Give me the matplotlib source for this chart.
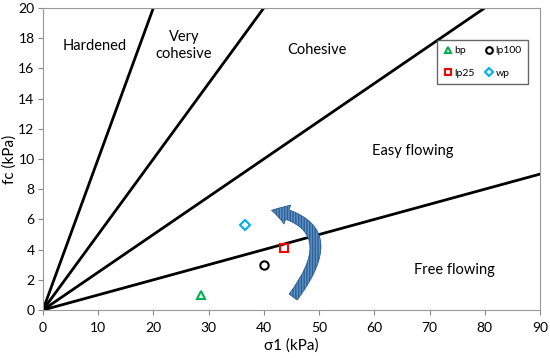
import numpy as np
import matplotlib.pyplot as plt
from matplotlib.patches import FancyArrowPatch
from matplotlib.path import Path

plt.rcParams['font.family'] = ['Lato', 'DejaVu Sans']

# flow function boundaries (ffc = sigma1 / fc)
ffc = [1, 2, 4, 10]

# samples (legend is filled column-wise: bp, lp25 | lp100, wp)
names = ['bp', 'lp25', 'lp100', 'wp']
sigma1 = [28.7, 43.7, 40.1, 36.5]
fc = [1.0, 4.1, 3.0, 5.6]
markers = ['^', 's', 'o', 'D']
colors = ['#00b050', 'red', 'black', '#00b0f0']
sizes = [6, 6, 6, 5]

regions = ['Hardened', 'Very\ncohesive', 'Cohesive', 'Easy flowing', 'Free flowing']
reg_x = [9.4, 25.5, 49.6, 67.0, 74.5]
reg_y = [17.5, 17.5, 17.2, 10.5, 2.65]

# curved arrow (quadratic bezier: start, control, end)
arrow_x = [45.3, 55.0, 41.4]
arrow_y = [0.86, 5.6, 6.6]

fig = plt.figure(figsize=(5.5, 3.58), dpi=100)
ax = fig.add_axes([0.078, 0.134, 0.904, 0.844])

xs = np.array([0, 90])
for f in ffc:
    ax.plot(xs, xs / f, color='black', lw=2, zorder=2)

for n, x, y, m, c, s in zip(names, sigma1, fc, markers, colors, sizes):
    ax.plot(x, y, ls='none', marker=m, mfc='none', mec=c, mew=1.5, ms=s, label=n, zorder=4)

for t, x, y in zip(regions, reg_x, reg_y):
    ax.text(x, y, t, ha='center', va='center', fontsize=10.5, linespacing=1.3)

p = Path(list(zip(arrow_x, arrow_y)), [Path.MOVETO, Path.CURVE3, Path.CURVE3])
arr = FancyArrowPatch(path=p,
                      arrowstyle='simple,head_width=1.1,head_length=0.9,tail_width=0.55',
                      mutation_scale=13, facecolor='#5e93c9', edgecolor='#2d5f91',
                      lw=0.6, hatch='||||||', zorder=3)
ax.add_patch(arr)

ax.set_xlim(0, 90)
ax.set_ylim(0, 20)
ax.set_xticks(range(0, 91, 10))
ax.set_yticks(range(0, 21, 2))
ax.tick_params(colors='#888888', labelcolor='black', labelsize=10, length=3.5)
ax.tick_params(axis='x', pad=5)
ax.tick_params(axis='y', pad=2.5)
for sp in ax.spines.values():
    sp.set_color('#999999')
ax.set_xlabel('σ1 (kPa)', fontsize=11, labelpad=3)
ax.set_ylabel('fc (kPa)', fontsize=11)
ax.yaxis.set_label_coords(-0.052, 0.5)

leg = ax.legend(loc='upper right', bbox_to_anchor=(0.982, 0.905), ncol=2, fontsize=7.5,
                frameon=True, fancybox=False, handletextpad=0.2, columnspacing=0.9,
                handlelength=0.9, borderpad=0.6, borderaxespad=0.3,
                labelspacing=1.3, markerscale=0.8)
leg.get_frame().set_edgecolor('#404040')
leg.get_frame().set_linewidth(1.0)

fig.savefig('out.png', dpi=100)
